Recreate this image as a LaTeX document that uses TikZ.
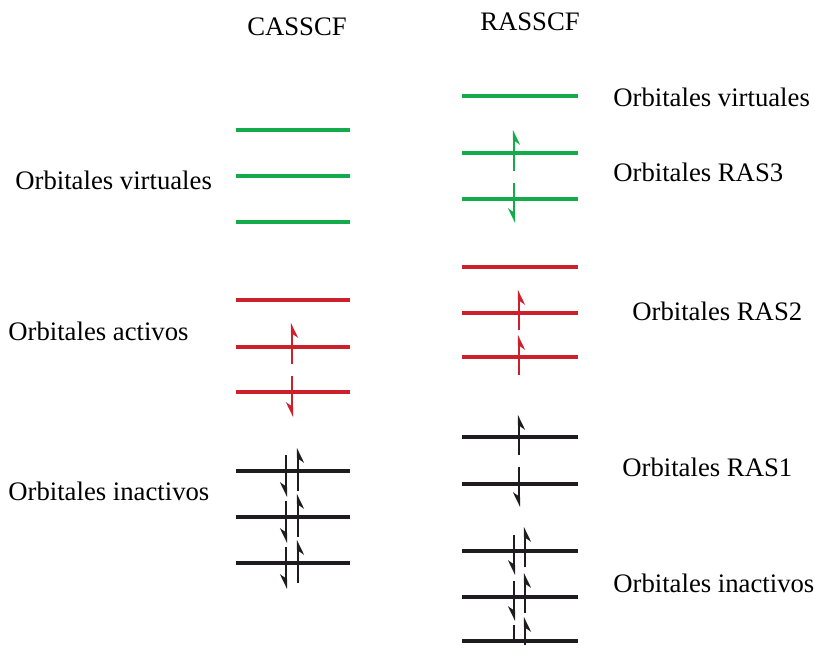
\documentclass[tikz,border=0pt]{standalone}
\usepackage{fontspec}
\setmainfont{Liberation Serif}
\usetikzlibrary{arrows.meta}

\definecolor{orbgreen}{RGB}{20,172,75}
\definecolor{orbred}{RGB}{205,32,42}
\definecolor{orbblack}{RGB}{30,28,30}

\begin{document}
\begin{tikzpicture}[x = 0.02cm, y = -0.02cm,
    every node/.style = {font = \fontsize{15.2}{18}\selectfont, inner sep = 0pt},
    level/.style = {line width = 1.8pt},
    heavy level/.style = {line width = 2.6pt},
    spin/.style = {line width = 1.5pt, -{Stealth[harpoon, swap, length = 0.25cm, width = 0.24cm]}}]
    \useasboundingbox (0, 0) rectangle (815, 645);

    % titles
    \node (casscf) at (297, 27) {CASSCF};
    \node (rasscf) at (530, 22) {RASSCF};

    % CASSCF labels
    \node[anchor = west] (cas virtual) at (15, 180) {Orbitales virtuales};
    \node[anchor = west] (cas active) at (8, 331) {Orbitales activos};
    \node[anchor = west] (cas inactive) at (8, 491) {Orbitales inactivos};

    % RASSCF labels
    \node[anchor = west] (ras virtual) at (613, 97) {Orbitales virtuales};
    \node[anchor = west] (ras three) at (613, 172) {Orbitales RAS3};
    \node[anchor = west] (ras two) at (632, 311) {Orbitales RAS2};
    \node[anchor = west] (ras one) at (622, 467) {Orbitales RAS1};
    \node[anchor = west] (ras inactive) at (613, 583) {Orbitales inactivos};

    % CASSCF levels
    \draw[level, orbgreen] (236, 130) -- (350, 130);
    \draw[heavy level, orbgreen] (236, 176) -- (350, 176);
    \draw[level, orbgreen] (236, 222) -- (350, 222);
    \draw[heavy level, orbred] (236, 300) -- (350, 300);
    \draw[level, orbred] (236, 347) -- (350, 347);
    \draw[level, orbred] (236, 392) -- (350, 392);
    \draw[level, orbblack] (236, 471) -- (350, 471);
    \draw[level, orbblack] (236, 517) -- (350, 517);
    \draw[heavy level, orbblack] (236, 563) -- (350, 563);

    % CASSCF electrons
    \draw[spin, orbred] (292, 347) ++(0, 17) -- ++(0, -41);
    \draw[spin, orbred] (292, 392) ++(0, -16) -- ++(0, 41);
    \draw[spin, orbblack] (286, 471) ++(0, -16) -- ++(0, 42);
    \draw[spin, orbblack] (298, 471) ++(0, 20) -- ++(0, -43);
    \draw[spin, orbblack] (286, 517) ++(0, -16) -- ++(0, 42);
    \draw[spin, orbblack] (298, 517) ++(0, 20) -- ++(0, -43);
    \draw[spin, orbblack] (286, 563) ++(0, -16) -- ++(0, 42);
    \draw[spin, orbblack] (298, 563) ++(0, 20) -- ++(0, -43);

    % RASSCF levels
    \draw[heavy level, orbgreen] (462, 96) -- (578, 96);
    \draw[level, orbgreen] (462, 153) -- (578, 153);
    \draw[level, orbgreen] (462, 199) -- (578, 199);
    \draw[level, orbred] (462, 267) -- (578, 267);
    \draw[heavy level, orbred] (462, 313) -- (578, 313);
    \draw[heavy level, orbred] (462, 357) -- (578, 357);
    \draw[heavy level, orbblack] (462, 437) -- (578, 437);
    \draw[level, orbblack] (462, 484) -- (578, 484);
    \draw[level, orbblack] (462, 551) -- (578, 551);
    \draw[level, orbblack] (462, 597) -- (578, 597);
    \draw[heavy level, orbblack] (462, 641) -- (578, 641);

    % RASSCF electrons
    \draw[spin, orbgreen] (514, 153) ++(0, 18) -- ++(0, -41);
    \draw[spin, orbgreen] (514, 199) ++(0, -16) -- ++(0, 40);
    \draw[spin, orbred] (519, 313) ++(0, 17) -- ++(0, -40);
    \draw[spin, orbred] (519, 357) ++(0, 18) -- ++(0, -40);
    \draw[spin, orbblack] (519, 437) ++(0, 18) -- ++(0, -40);
    \draw[spin, orbblack] (519, 484) ++(0, -17) -- ++(0, 40);
    \draw[spin, orbblack] (514, 551) ++(0, -16) -- ++(0, 40);
    \draw[spin, orbblack] (525, 551) ++(0, 16) -- ++(0, -40);
    \draw[spin, orbblack] (514, 597) ++(0, -16) -- ++(0, 40);
    \draw[spin, orbblack] (525, 597) ++(0, 16) -- ++(0, -40);
    \draw[orbblack, line width = 1.5pt] (514, 641) ++(0, -16) -- ++(0, 16);
    \draw[spin, orbblack] (525, 641) ++(0, 4) -- ++(0, -28);
\end{tikzpicture}
\end{document}
